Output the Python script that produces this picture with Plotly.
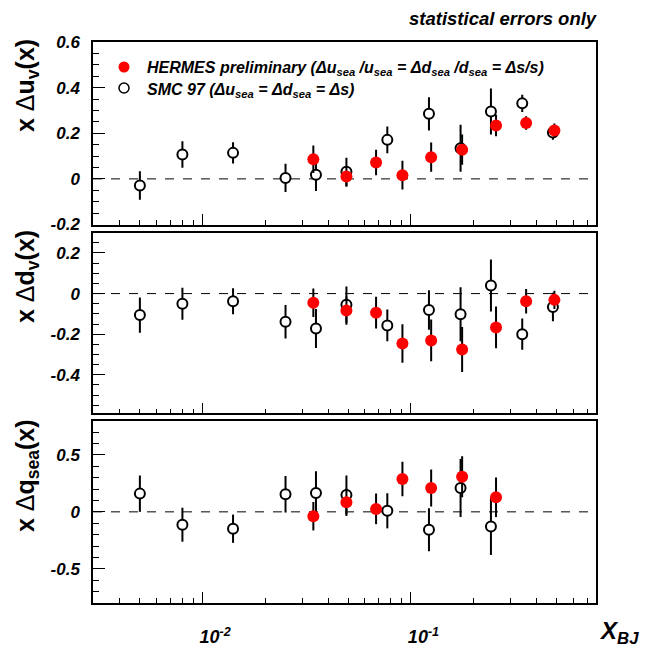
import plotly.graph_objects as go

# ---------------- data ----------------
smc_x = [0.005, 0.008, 0.014, 0.025, 0.035, 0.049, 0.077, 0.122, 0.173, 0.242, 0.342, 0.480]
hermes_x = [0.034, 0.049, 0.068, 0.091, 0.125, 0.176, 0.256, 0.357, 0.488]

smc_uv = [-0.029, 0.107, 0.114, 0.004, 0.018, 0.031, 0.171, 0.285, 0.134, 0.295, 0.331, 0.203]
smc_uv_err = [0.062, 0.058, 0.047, 0.062, 0.071, 0.062, 0.059, 0.073, 0.103, 0.101, 0.038, 0.031]
hermes_uv = [0.086, 0.010, 0.072, 0.016, 0.095, 0.128, 0.234, 0.245, 0.212]
hermes_uv_err = [0.060, 0.045, 0.056, 0.063, 0.064, 0.066, 0.047, 0.030, 0.031]

smc_dv = [-0.106, -0.050, -0.038, -0.139, -0.172, -0.055, -0.157, -0.081, -0.102, 0.040, -0.200, -0.066]
smc_dv_err = [0.087, 0.079, 0.064, 0.083, 0.096, 0.090, 0.078, 0.097, 0.133, 0.128, 0.077, 0.070]
hermes_dv = [-0.045, -0.084, -0.094, -0.246, -0.231, -0.276, -0.167, -0.038, -0.031]
hermes_dv_err = [0.070, 0.070, 0.078, 0.095, 0.103, 0.111, 0.103, 0.060, 0.045]

smc_sea = [0.160, -0.113, -0.148, 0.154, 0.166, 0.148, 0.009, -0.157, 0.209, -0.128, None, None]
smc_sea_err = [0.160, 0.149, 0.124, 0.160, 0.190, 0.170, 0.154, 0.189, 0.254, 0.250, None, None]
hermes_sea = [-0.038, 0.084, 0.026, 0.288, 0.209, 0.308, 0.128, None, None]
hermes_sea_err = [0.125, 0.120, 0.134, 0.152, 0.163, 0.180, 0.174, None, None]

x_tickvals = [0.01, 0.1]
x_ticktext = ["10<sup>-2</sup>", "10<sup>-1</sup>"]
x_minor = [0.003, 0.004, 0.005, 0.006, 0.007, 0.008, 0.009,
           0.02, 0.03, 0.04, 0.05, 0.06, 0.07, 0.08, 0.09,
           0.2, 0.3, 0.4, 0.5, 0.6, 0.7]

uv_tickvals = [-0.2, 0, 0.2, 0.4, 0.6]
uv_ticktext = ["-0.2", "0", "0.2", "0.4", "0.6"]
dv_tickvals = [-0.4, -0.2, 0, 0.2]
dv_ticktext = ["-0.4", "-0.2", "0", "0.2"]
sea_tickvals = [-0.5, 0, 0.5]
sea_ticktext = ["-0.5", "0", "0.5"]

hermes_name = ("HERMES preliminary (Δu<sub>sea</sub> /u<sub>sea</sub> = "
               "Δd<sub>sea</sub> /d<sub>sea</sub> = Δs/s)")
smc_name = "SMC 97 (Δu<sub>sea</sub> = Δd<sub>sea</sub> = Δs)"

FONT = "Liberation Sans, Arial, Helvetica, sans-serif"

fig = go.Figure()

panels = [
    ("y", smc_uv, smc_uv_err, hermes_uv, hermes_uv_err),
    ("y2", smc_dv, smc_dv_err, hermes_dv, hermes_dv_err),
    ("y3", smc_sea, smc_sea_err, hermes_sea, hermes_sea_err),
]
xrefs = {"y": "x", "y2": "x2", "y3": "x3"}

for yref, sv, se, hv, he in panels:
    fig.add_trace(go.Scatter(
        x=smc_x, y=sv, mode="markers", name=smc_name, showlegend=False,
        xaxis=xrefs[yref], yaxis=yref, hoverinfo="skip",
        marker=dict(symbol="circle", size=10, color="white",
                    line=dict(color="black", width=2)),
        error_y=dict(type="data", array=se, visible=True, color="black",
                     thickness=2, width=0),
    ))
for yref, sv, se, hv, he in panels:
    fig.add_trace(go.Scatter(
        x=hermes_x, y=hv, mode="markers", name=hermes_name, showlegend=False,
        xaxis=xrefs[yref], yaxis=yref, hoverinfo="skip",
        marker=dict(symbol="circle", size=12, color="#ff0000",
                    line=dict(width=0)),
        error_y=dict(type="data", array=he, visible=True, color="black",
                     thickness=2, width=0),
    ))

# plot area (in page pixels): x 93..596, y 42..603
PX0, PX1, PY0, PY1 = 93.0, 596.0, 42.0, 603.0


def px(xp):
    return (xp - PX0) / (PX1 - PX0)


def py(yp):
    return (PY1 - yp) / (PY1 - PY0)


xrange_log = [-2.526, -0.112]
common_x = dict(
    type="log", range=xrange_log, showgrid=False, zeroline=False, automargin=False,
    showline=True, linecolor="black", linewidth=1.5, mirror=True,
    ticks="inside", ticklen=11, tickwidth=1, tickcolor="black",
    tickvals=x_tickvals, ticktext=x_ticktext,
    minor=dict(tickvals=x_minor, ticks="inside", ticklen=5,
               tickcolor="black", tickwidth=1),
    tickfont=dict(family=FONT, size=18, color="black", weight="bold", style="italic"),
)
common_y = dict(
    showgrid=False, zeroline=False, showline=True, linecolor="black", automargin=False,
    linewidth=1.5, mirror=True, ticks="inside", ticklen=12, tickwidth=1,
    tickcolor="black", ticklabelstandoff=8,
    tickfont=dict(family=FONT, size=17, color="black", weight="bold", style="italic"),
)

pad = "\u00a0" * 5
fig.update_layout(
    width=651, height=650,
    margin=dict(l=93, r=55, t=42, b=47, autoexpand=False),
    plot_bgcolor="white", paper_bgcolor="white",
    showlegend=False,
    xaxis=dict(common_x, anchor="y", showticklabels=False),
    xaxis2=dict(common_x, anchor="y2", matches="x", showticklabels=False),
    xaxis3=dict(common_x, anchor="y3", matches="x", showticklabels=True,
                ticktext=[pad + t for t in x_ticktext], ticklabelstandoff=17),
    yaxis=dict(common_y, domain=[py(224.5), 1.0], range=[-0.2, 0.6],
               tickvals=uv_tickvals, ticktext=uv_ticktext,
               minor=dict(dtick=0.05, tick0=0, ticks="inside", ticklen=6,
                          tickcolor="black", tickwidth=1)),
    yaxis2=dict(common_y, domain=[py(413.3), py(232.7)], range=[-0.59, 0.30],
                tickvals=dv_tickvals, ticktext=dv_ticktext,
                minor=dict(dtick=0.05, tick0=0, ticks="inside", ticklen=6,
                           tickcolor="black", tickwidth=1)),
    yaxis3=dict(common_y, domain=[0.0, py(420.7)], range=[-0.8, 0.8],
                tickvals=sea_tickvals, ticktext=sea_ticktext,
                minor=dict(dtick=0.1, tick0=0, ticks="inside", ticklen=6,
                           tickcolor="black", tickwidth=1)),
)

# dashed zero lines
for xr, yr in [("x", "y"), ("x2", "y2"), ("x3", "y3")]:
    fig.add_shape(type="line", xref=f"{xr} domain", yref=yr, x0=0, x1=1, y0=0, y1=0,
                  line=dict(color="black", width=1, dash="dash"), layer="below")

# legend (drawn by hand to match the spacing of the original)
r = 5.5
fig.add_shape(type="circle", xref="paper", yref="paper",
              x0=px(124 - r), x1=px(124 + r), y0=py(67 + r), y1=py(67 - r),
              fillcolor="#ff0000", line=dict(width=0))
r2 = 5.0
fig.add_shape(type="circle", xref="paper", yref="paper",
              x0=px(124 - r2), x1=px(124 + r2), y0=py(88 + r2), y1=py(88 - r2),
              fillcolor="white", line=dict(color="black", width=1.5))
leg_font = dict(family=FONT, size=16, color="black", weight="bold", style="italic")
fig.add_annotation(text=hermes_name, xref="paper", yref="paper",
                   x=px(145), y=py(69), xanchor="left", yanchor="middle",
                   showarrow=False, font=leg_font)
fig.add_annotation(text=smc_name, xref="paper", yref="paper",
                   x=px(145), y=py(90), xanchor="left", yanchor="middle",
                   showarrow=False, font=leg_font)

title_font = dict(family=FONT, size=25, color="black")
titles = [
    ("<b>x </b>Δ<b>u<sub>v</sub>(x)</b>", 86),
    ("<b>x </b>Δ<b>d<sub>v</sub>(x)</b>", 277),
    ("<b>x </b>Δ<b>q<sub>sea</sub>(x)</b>", 476),
]
for txt, yy in titles:
    fig.add_annotation(text=txt, xref="paper", yref="paper", x=px(27), y=py(yy),
                       xanchor="center", yanchor="middle", textangle=-90,
                       showarrow=False, font=title_font)

fig.add_annotation(text="<b><i>statistical errors only</i></b>", xref="paper", yref="paper",
                   x=px(600), y=py(18), xanchor="right", yanchor="middle",
                   showarrow=False, font=dict(family=FONT, size=18.5, color="black"))
fig.add_annotation(text="<b><i>X<sub>BJ</sub></i></b>", xref="paper", yref="paper",
                   x=px(597), y=py(632), xanchor="left", yanchor="middle",
                   showarrow=False, font=dict(family=FONT, size=24, color="black"))

# remove the browser's default 8px body margin so the figure sits at (0, 0)
fig.write_html(
    "out.html",
    config={"displayModeBar": False},
    post_script="document.body.style.margin='0';document.body.style.overflow='hidden';",
)
